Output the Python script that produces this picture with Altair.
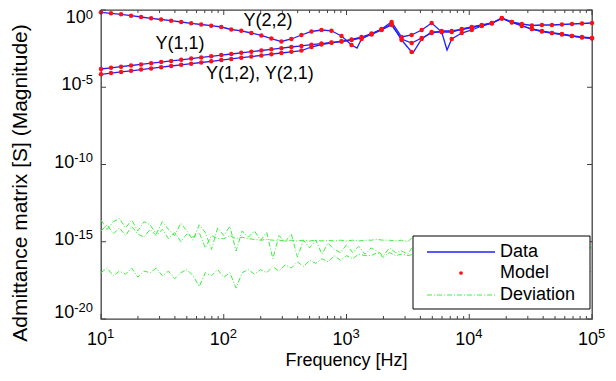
import altair as alt
import pandas as pd

FONT = "Liberation Sans"

# ---------------- model frequencies (Hz) ----------------
freq = [10.0, 12.07, 14.57, 17.58, 21.21, 25.60, 30.90, 37.28, 45.00, 54.29,
        65.52, 79.06, 95.41, 115.1, 138.9, 167.7, 202.4, 244.2, 294.7, 355.6,
        429.2, 517.9, 625.1, 754.3, 910.3, 1098.6, 1325.7, 1600.0, 1930.7, 2329.9,
        2811.8, 3393.2, 4094.9, 4941.7, 5963.6, 7196.9, 8685.1, 10481, 12649, 15264,
        18421, 22230, 26827, 32375, 39069, 47149, 56899, 68665, 82864, 100000]

# log10 of |Y|
y22 = [-0.149, -0.214, -0.278, -0.369, -0.453, -0.537, -0.615, -0.693, -0.777, -0.861,
       -0.939, -1.016, -1.100, -1.262, -1.346, -1.489, -1.650, -1.845, -2.039, -1.877,
       -1.618, -1.392, -1.294, -1.346, -1.683, -2.265, -1.877, -1.553, -1.262, -0.906,
       -1.942, -2.718, -1.877, -1.424, -1.424, -1.424, -1.230, -1.100, -0.971, -0.841,
       -0.518, -0.777, -1.003, -1.230, -1.359, -1.489, -1.553, -1.683, -1.748, -1.812]
y11 = [-3.819, -3.741, -3.670, -3.592, -3.521, -3.443, -3.372, -3.294, -3.223, -3.146,
       -3.068, -2.997, -2.919, -2.848, -2.770, -2.699, -2.621, -2.544, -2.472, -2.395,
       -2.324, -2.246, -2.175, -2.097, -2.026, -1.909, -1.748, -1.521, -1.230, -0.777,
       -1.748, -1.618, -1.294, -0.841, -1.424, -1.877, -1.489, -1.294, -1.036, -0.841,
       -0.550, -0.777, -0.906, -1.003, -0.971, -0.971, -0.939, -0.906, -0.874, -0.841]
y12 = [-4.162, -4.084, -4.006, -3.935, -3.858, -3.780, -3.702, -3.625, -3.547, -3.476,
       -3.398, -3.320, -3.243, -3.165, -3.087, -3.016, -2.939, -2.861, -2.783, -2.706,
       -2.628, -2.395, -2.233, -2.123, -2.045, -1.942, -1.812, -1.586, -1.294, -0.971,
       -1.877, -2.136, -1.812, -1.489, -1.359, -1.359, -1.262, -1.133, -1.003, -0.874,
       -0.550, -0.809, -1.036, -1.230, -1.392, -1.489, -1.586, -1.683, -1.780, -1.845]

# extra measured samples (Data only) at resonances
extra_freq = [1218, 3483, 6592]
extra_curve = ["Y(2,2)", "Y(2,2)", "Y(1,1)"]
extra_log = [-2.46, -2.78, -2.59]

# ---------------- deviation ----------------
dev_freq = [10, 11.22, 12.59, 14.13, 15.85, 17.78, 19.95, 22.39, 25.12, 28.18,
            31.62, 35.48, 39.81, 44.67, 50.12, 56.23, 63.10, 70.79, 79.43, 89.13,
            100, 112.2, 125.9, 141.3, 158.5, 177.8, 199.5, 223.9, 251.2, 281.8,
            316.2, 354.8, 398.1, 446.7, 501.2, 562.3, 631.0, 707.9, 794.3, 891.3,
            1000, 1122, 1259, 1413, 1585, 1778, 1995, 2239, 2512, 2818,
            3162, 3548, 3981, 4467, 5012, 5623, 6310, 7079, 7943, 8913,
            10000, 11220, 12589, 14125, 15849, 17783, 19953, 22387, 25119, 28184,
            31623, 35481, 39811, 44668, 50119, 56234, 63096, 70795, 79433, 89125,
            100000]
dev1 = [-13.6, -14.2, -13.7, -13.5, -14.1, -13.6, -14.3, -13.7, -13.9, -14.5,
        -13.7, -14.2, -14.6, -13.8, -14.3, -14.9, -13.9, -14.4, -15.5, -14.1,
        -14.6, -14.0, -15.6, -14.3, -14.7, -14.3, -14.9, -14.4, -16.1, -14.6,
        -15.0, -14.5, -16.0, -14.9, -15.4, -14.9, -15.8, -15.1, -15.5, -15.7,
        -15.2, -15.7, -15.3, -15.8, -15.4, -15.6, -15.9, -15.4, -15.7, -15.6,
        -15.8, -15.2, -15.7, -15.6, -15.8, -15.6, -15.7, -15.8, -15.6, -15.7,
        -15.8, -15.6, -15.7, -15.8, -15.6, -15.7, -15.8, -15.6, -15.7, -15.6,
        -15.8, -15.7, -15.6, -15.8, -15.7, -15.6, -15.7, -15.8, -15.5, -15.7,
        -15.3]
dev2 = [-17.0, -16.7, -17.2, -16.9, -17.1, -16.7, -17.3, -16.9, -17.0, -16.7,
        -17.2, -16.9, -17.4, -17.0, -16.8, -17.2, -17.9, -17.0, -17.2, -16.8,
        -17.3, -17.0, -18.0, -17.0, -16.8, -17.1, -16.8, -17.0, -16.6, -16.9,
        -16.5, -16.7, -16.3, -16.6, -16.2, -16.4, -16.1, -16.3, -15.9, -16.2,
        -15.9, -16.1, -15.8, -15.9, -15.9, -15.7, -16.0, -15.7, -15.9, -15.8,
        -15.9, -15.8, -15.9, -15.8, -16.0, -15.8, -15.9, -15.8, -15.9, -16.0,
        -15.8, -15.9, -15.8, -15.9, -15.8, -16.0, -15.9, -15.8, -15.9, -15.8,
        -15.9, -15.8, -15.9, -15.8, -15.9, -15.9, -16.0, -16.2, -16.4, -16.7,
        -17.0]
dev3 = [-14.3, -13.9, -14.5, -14.1, -14.6, -14.0, -14.5, -14.7, -14.2, -14.6,
        -14.2, -14.8, -14.4, -15.0, -14.5, -14.7, -14.4, -15.4, -14.6, -14.8,
        -14.8, -14.6, -14.8, -14.7, -14.8, -14.85, -14.9, -14.85, -14.9, -14.9,
        -14.95, -14.9, -14.95, -14.9, -14.95, -14.9, -14.95, -14.9, -14.95, -14.9,
        -14.95, -14.9, -14.95, -14.9, -14.9, -14.85, -14.9, -14.9, -14.95, -14.9,
        -15.0, -14.6, -15.0, -15.0, -15.05, -15.0, -15.05, -15.0, -15.05, -15.0,
        -15.05, -15.0, -15.05, -15.0, -15.05, -15.0, -15.05, -15.0, -15.05, -15.0,
        -15.05, -15.0, -15.05, -15.0, -15.05, -15.0, -15.05, -15.1, -15.3, -15.2,
        -15.4]

# ---------------- text ----------------
annot_text = ["Y(2,2)", "Y(1,1)", "Y(1,2), Y(2,1)"]
annot_freq = [229, 44, 197]
annot_mag = [0.194, 6.3e-3, 7.2e-5]

x_major = [10, 100, 1000, 10000, 100000]
x_exp = ["1", "2", "3", "4", "5"]
x_minor = [m * d for d in [10, 100, 1000, 10000] for m in range(2, 10)]
y_major = [1, 1e-5, 1e-10, 1e-15, 1e-20]
y_exp = ["0", "-5", "-10", "-15", "-20"]

legend_labels = ["Data", "Model", "Deviation"]
x_title = "Frequency [Hz]"
y_title = "Admittance matrix [S] (Magnitude)"

BLUE = "#2020ff"
RED = "#ff1010"
GREEN = "#3cf03c"
AXIS = "#404040"
DASH = [5, 2, 1, 2]

W, H = 491, 309

# ---------------- tables ----------------
curves = {"Y(2,2)": y22, "Y(1,1)": y11, "Y(1,2)": y12}
model_rows = []
for name, vals in curves.items():
    for f, v in zip(freq, vals):
        model_rows.append({"f": f, "mag": 10 ** v, "curve": name})
model_df = pd.DataFrame(model_rows)
data_rows = list(model_rows)
for f, c, v in zip(extra_freq, extra_curve, extra_log):
    data_rows.append({"f": f, "mag": 10 ** v, "curve": c})
data_df = pd.DataFrame(data_rows).sort_values("f")

dev_rows = []
for name, vals in {"d1": dev1, "d2": dev2, "d3": dev3}.items():
    for f, v in zip(dev_freq, vals):
        dev_rows.append({"f": f, "mag": 10 ** v, "curve": name})
dev_df = pd.DataFrame(dev_rows)

xs = alt.Scale(type="log", domain=[10, 100000], nice=False)
ys = alt.Scale(type="log", domain=[1e-20, 1], nice=False)


def X():
    return alt.X("f:Q", scale=xs, axis=None)


def Y():
    return alt.Y("mag:Q", scale=ys, axis=None)


layers = []
layers.append(alt.Chart(dev_df).mark_line(color=GREEN, strokeWidth=1, strokeDash=DASH)
              .encode(x=X(), y=Y(), detail="curve:N", order="f:Q"))
layers.append(alt.Chart(data_df).mark_line(color=BLUE, strokeWidth=1.3)
              .encode(x=X(), y=Y(), detail="curve:N", order="f:Q"))
layers.append(alt.Chart(model_df).mark_circle(color=RED, size=20, opacity=1)
              .encode(x=X(), y=Y()))

annot_df = pd.DataFrame({"f": annot_freq, "mag": annot_mag, "label": annot_text})
layers.append(alt.Chart(annot_df).mark_text(font=FONT, fontSize=18, color="black")
              .encode(x=X(), y=Y(), text="label:N"))

# ticks (inward)
xmaj_df = pd.DataFrame({"f": x_major})
xmin_df = pd.DataFrame({"f": x_minor})
for df, ln in [(xmaj_df, 5), (xmin_df, 3)]:
    layers.append(alt.Chart(df).mark_rule(color=AXIS, strokeWidth=1)
                  .encode(x=X(), y=alt.value(H), y2=alt.value(H - ln)))
    layers.append(alt.Chart(df).mark_rule(color=AXIS, strokeWidth=1)
                  .encode(x=X(), y=alt.value(0), y2=alt.value(ln)))
ymaj_df = pd.DataFrame({"mag": y_major})
layers.append(alt.Chart(ymaj_df).mark_rule(color=AXIS, strokeWidth=1)
              .encode(y=Y(), x=alt.value(0), x2=alt.value(5)))
layers.append(alt.Chart(ymaj_df).mark_rule(color=AXIS, strokeWidth=1)
              .encode(y=Y(), x=alt.value(W), x2=alt.value(W - 5)))

# x tick labels
xl_df = pd.DataFrame({"f": x_major, "e": x_exp})
layers.append(alt.Chart(xl_df).mark_text(font=FONT, fontSize=18, align="right", baseline="middle", dx=6)
              .encode(x=X(), y=alt.value(H + 21), text=alt.value("10")))
layers.append(alt.Chart(xl_df).mark_text(font=FONT, fontSize=13, align="left", baseline="middle", dx=6)
              .encode(x=X(), y=alt.value(H + 15), text="e:N"))


# y tick labels
def exp_width(s):
    w = 0.0
    for ch in s:
        w += 4.3 if ch == "-" else 7.2
    return w


for v, e in zip(y_major, y_exp):
    dy, edy = -2, -7
    if v == y_major[0]:
        dy, edy = 7.5, 4.5
    if v == y_major[-1]:
        dy, edy = -6, -11
    df = pd.DataFrame({"mag": [v], "e": [e]})
    layers.append(alt.Chart(df).mark_text(font=FONT, fontSize=18, align="right", baseline="middle", dy=dy)
                  .encode(y=Y(), x=alt.value(-8 - exp_width(e)), text=alt.value("10")))
    layers.append(alt.Chart(df).mark_text(font=FONT, fontSize=13, align="right", baseline="middle", dy=edy)
                  .encode(y=Y(), x=alt.value(-8), text="e:N"))

# axis titles
one = pd.DataFrame({"a": [0]})
layers.append(alt.Chart(one).mark_text(font=FONT, fontSize=18, text=x_title, baseline="middle")
              .encode(x=alt.value(W / 2), y=alt.value(H + 42)))
layers.append(alt.Chart(one).mark_text(font=FONT, fontSize=21, text=y_title, angle=270, baseline="middle")
              .encode(x=alt.value(-80), y=alt.value(173)))

# legend
layers.append(alt.Chart(one).mark_rect(fill="white", stroke="black", strokeWidth=1)
              .encode(x=alt.value(312), x2=alt.value(489), y=alt.value(226), y2=alt.value(299)))
layers.append(alt.Chart(one).mark_rule(color=BLUE, strokeWidth=1.3)
              .encode(x=alt.value(326), x2=alt.value(394), y=alt.value(242)))
layers.append(alt.Chart(one).mark_circle(color=RED, size=14, opacity=1)
              .encode(x=alt.value(360), y=alt.value(263)))
layers.append(alt.Chart(one).mark_rule(color=GREEN, strokeWidth=1, strokeDash=DASH)
              .encode(x=alt.value(326), x2=alt.value(394), y=alt.value(285)))
for lab, yy in zip(legend_labels, [242, 263, 285]):
    layers.append(alt.Chart(one).mark_text(font=FONT, fontSize=18, text=lab, align="left", baseline="middle")
                  .encode(x=alt.value(399), y=alt.value(yy)))

chart = alt.layer(*layers).properties(
    width=W, height=H,
    autosize=alt.AutoSizeParams(type="none"),
    padding={"left": 93, "top": 2, "right": 15, "bottom": 55},
).configure_view(stroke=AXIS, strokeWidth=1.3)

chart.save("out.html", embed_options={"renderer": "svg", "actions": False})
